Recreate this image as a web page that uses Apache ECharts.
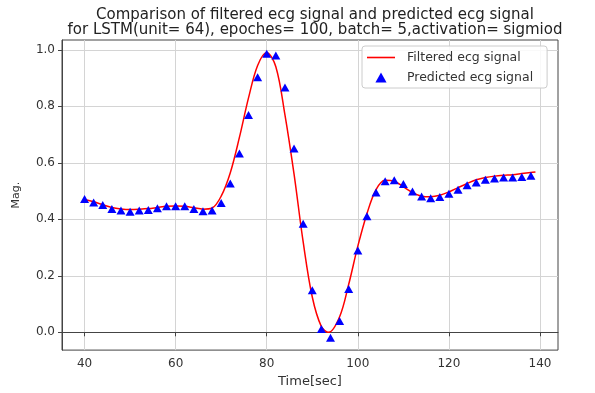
<!DOCTYPE html>
<html>
<head>
<meta charset="utf-8">
<script src="https://cdn.jsdelivr.net/npm/echarts@6/dist/echarts.min.js"></script>
<style>
  html, body { margin: 0; padding: 0; background: #fff; }
  #chart { width: 595px; height: 393px; }
</style>
</head>
<body>
<div id="chart"></div>
<script>
// predicted samples, every 2 sec
const predTime = [
  40, 42, 44, 46, 48, 50, 52, 54, 56, 58, 60, 62, 64, 66, 68, 70, 72, 74, 76, 78,
  80, 82, 84, 86, 88, 90, 92, 94, 96, 98, 100, 102, 104, 106, 108, 110, 112, 114, 116, 118,
  120, 122, 124, 126, 128, 130, 132, 134, 136, 138
];
const predicted = [
  0.472, 0.460, 0.451, 0.437, 0.431, 0.427, 0.431, 0.433, 0.439, 0.446,
  0.446, 0.446, 0.437, 0.429, 0.431, 0.458, 0.527, 0.633, 0.769, 0.903,
  0.986, 0.980, 0.867, 0.651, 0.384, 0.149, 0.012, -0.019, 0.040, 0.153,
  0.290, 0.411, 0.495, 0.535, 0.538, 0.525, 0.499, 0.481, 0.475, 0.479,
  0.491, 0.505, 0.521, 0.530, 0.540, 0.545, 0.548, 0.548, 0.550, 0.554
];

// filtered signal
const filtTime = [
  40, 42, 44, 46, 48, 50, 52, 54, 56, 58, 60, 62, 64, 66, 68, 70, 72, 74, 76, 78,
  80, 82, 84, 86, 88, 90, 92, 93.6, 96, 98, 100, 102, 104, 106, 108, 110, 112, 114, 116, 118,
  120, 122, 124, 126, 128, 130, 132, 134, 136, 138, 139
];
const filtered = [
  0.470, 0.462, 0.452, 0.442, 0.437, 0.435, 0.436, 0.438, 0.442, 0.446,
  0.447, 0.446, 0.441, 0.436, 0.440, 0.482, 0.565, 0.690, 0.830, 0.945,
  0.990, 0.940, 0.770, 0.560, 0.320, 0.125, 0.020, 0.000, 0.055, 0.170,
  0.305, 0.420, 0.505, 0.538, 0.535, 0.515, 0.495, 0.482, 0.480, 0.485,
  0.497, 0.512, 0.527, 0.540, 0.548, 0.553, 0.556, 0.558, 0.562, 0.566, 0.568
];

const xTicks = [40, 60, 80, 100, 120, 140];
const yTicks = [0, 0.2, 0.4, 0.6, 0.8, 1.0];

const chart = echarts.init(document.getElementById("chart"));
const font = "DejaVu Sans";
const txt = "#333";

chart.setOption({
  animation: false,
  backgroundColor: "#fff",
  textStyle: { fontFamily: font },
  title: {
    text: "Comparison of filtered ecg signal and predicted ecg signal\nfor LSTM(unit= 64), epoches= 100, batch= 5,activation= sigmiod",
    left: 310, top: 3, textAlign: "center",
    textStyle: { fontFamily: font, fontSize: 15, fontWeight: "normal", color: "#222", lineHeight: 15 },
  },
  legend: {
    orient: "vertical",
    left: 362, top: 46,
    padding: [5, 14, 4, 5],
    itemWidth: 28, itemHeight: 10, itemGap: 7,
    backgroundColor: "rgba(255,255,255,0.85)",
    borderColor: "#ccc", borderWidth: 1, borderRadius: 3,
    textStyle: { fontFamily: font, fontSize: 12.5, color: txt, padding: [0, 0, 0, 7] },
    data: [
      { name: "Filtered ecg signal", icon: "path://M0,0 L28,0 L28,1.6 L0,1.6 Z", itemStyle: { color: "#ff0000" } },
      { name: "Predicted ecg signal", icon: "path://M5,0 L10,9 L0,9 Z", itemStyle: { color: "#0000ff" } },
    ],
  },
  grid: { left: 62, right: 37, top: 40, bottom: 41, show: true, borderColor: "#444", borderWidth: 1 },
  xAxis: {
    type: "value", min: 35.05, max: 143.95,
    name: "Time[sec]", nameLocation: "middle", nameGap: 24,
    nameTextStyle: { fontFamily: font, fontSize: 13, color: txt },
    axisLine: { show: true, lineStyle: { color: "#444" } },
    axisTick: { show: true, length: 4, customValues: xTicks, lineStyle: { color: "#444" } },
    axisLabel: { customValues: xTicks, color: txt, fontSize: 12, margin: 8 },
    splitLine: { show: true, lineStyle: { color: "#d4d4d4", width: 1 } },
  },
  yAxis: {
    type: "value", min: -0.063, max: 1.035,
    name: "Mag.", nameLocation: "middle", nameGap: 40, nameRotate: 90,
    nameTextStyle: { fontFamily: font, fontSize: 11, color: txt },
    axisLine: { show: true, lineStyle: { color: "#444" } },
    axisTick: { show: true, length: 4, customValues: yTicks, lineStyle: { color: "#444" } },
    axisLabel: { customValues: yTicks, color: txt, fontSize: 12, margin: 7, formatter: v => v.toFixed(1) },
    splitLine: { show: true, lineStyle: { color: "#d4d4d4", width: 1 } },
  },
  series: [
    {
      name: "Filtered ecg signal",
      type: "line",
      data: filtTime.map((t, i) => [t, filtered[i]]),
      symbol: "none",
      smooth: 0.35,
      lineStyle: { color: "#ff0000", width: 1.5 },
      itemStyle: { color: "#ff0000" },
      z: 2,
    },
    {
      name: "Predicted ecg signal",
      type: "scatter",
      data: predTime.map((t, i) => [t, predicted[i]]),
      symbol: "triangle",
      symbolSize: [9, 8],
      itemStyle: { color: "#0000ff", opacity: 1 },
      z: 3,
    },
  ],
});
</script>
</body>
</html>
